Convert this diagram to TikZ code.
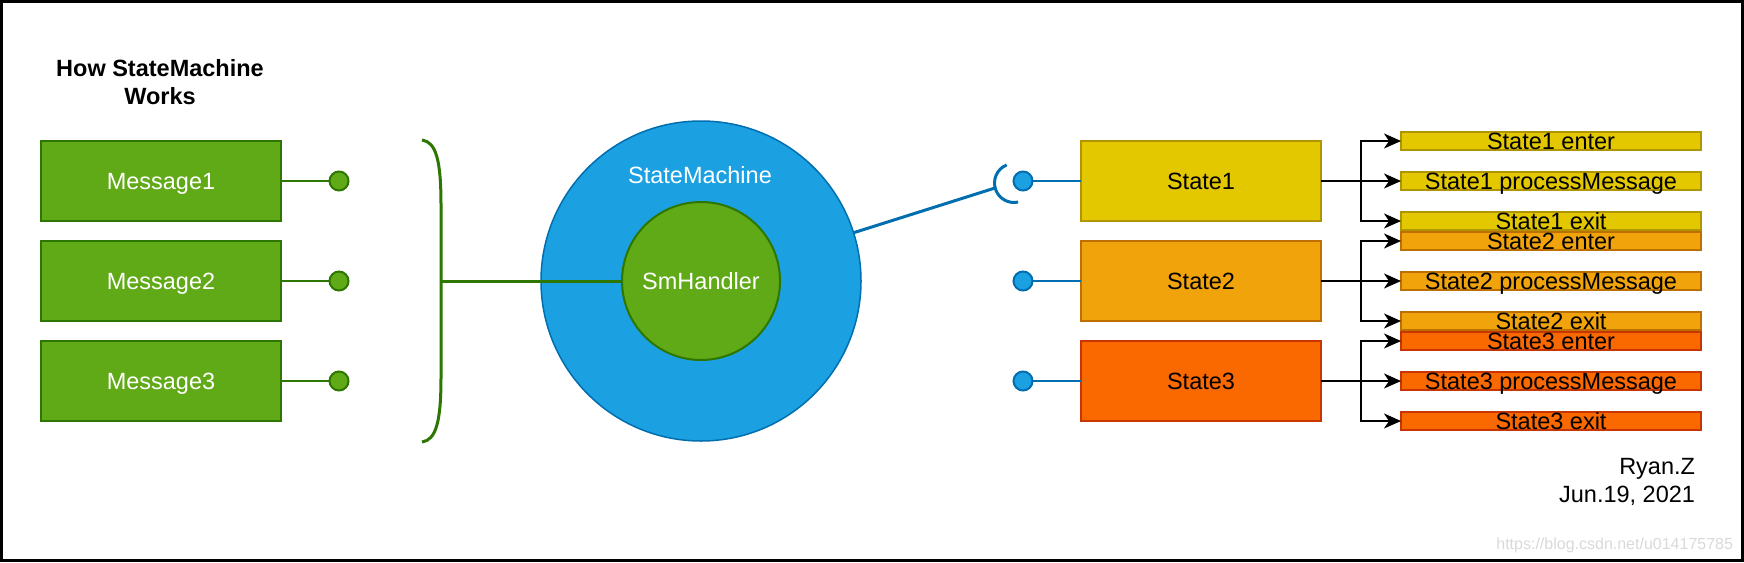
\documentclass[tikz,border=0pt]{standalone}
\usepackage{fontspec}
\setmainfont{Liberation Sans}
\usetikzlibrary{arrows.meta,calc}
\definecolor{gfill}{HTML}{60A917}
\definecolor{gline}{HTML}{2D7600}
\definecolor{bfill}{HTML}{1BA1E2}
\definecolor{bline}{HTML}{006EAF}
\definecolor{yfill}{HTML}{E3C800}
\definecolor{yline}{HTML}{B09500}
\definecolor{ofill}{HTML}{F0A30A}
\definecolor{oline}{HTML}{BD7000}
\definecolor{rfill}{HTML}{FA6800}
\definecolor{rline}{HTML}{C73500}
\newcommand{\myfs}{\fontsize{23.5pt}{28pt}\selectfont}
\tikzset{
  every node/.style={inner sep=0pt, outer sep=0pt},
  captxt/.style={text height=16.8pt, text depth=0pt, font=\myfs},
  msgbox/.style={captxt, draw=gline, fill=gfill, line width=2pt, minimum width=240pt, minimum height=80pt, text=white},
  dotg/.style={circle, draw=gline, fill=gfill, line width=2pt, minimum size=19pt},
  dotb/.style={circle, draw=bline, fill=bfill, line width=2pt, minimum size=19pt},
  stbox/.style={captxt, line width=2pt, minimum width=240pt, minimum height=80pt},
  methbox/.style={captxt, line width=2pt, minimum width=300pt, minimum height=18pt},
  st1/.style={draw=yline, fill=yfill},
  st2/.style={draw=oline, fill=ofill},
  st3/.style={draw=rline, fill=rfill},
  glink/.style={draw=gline, line width=2pt},
  blink/.style={draw=bline, line width=2pt},
  arr/.style={draw=black, line width=2pt, -{Stealth[length={17pt 0 0},width={15pt 0 0},inset={5pt 0}]}},
}
\begin{document}
\begin{tikzpicture}[x=1pt,y=-1pt]
\useasboundingbox (0,0) rectangle (1744,562);
\draw[line width=3pt] (1.5,1.5) rectangle (1742,560.5);

% title
\node[font=\bfseries\myfs, align=center] (title) at (160,82) {How StateMachine\\Works};

% messages
\node[msgbox] (m1) at (161,181) {Message1};
\node[msgbox] (m2) at (161,281) {Message2};
\node[msgbox] (m3) at (161,381) {Message3};
\node[dotg] (g1) at (339,181) {};
\node[dotg] (g2) at (339,281) {};
\node[dotg] (g3) at (339,381) {};
\draw[glink] (m1.east) -- (g1.west);
\draw[glink] (m2.east) -- (g2.west);
\draw[glink] (m3.east) -- (g3.west);

% bracket
\draw[draw=gline, line width=3pt] (422,140) .. controls (436,142) and (441,160) .. (441,205)
  -- (441,377) .. controls (441,422) and (436,440) .. (422,442);
\coordinate (brk) at (441,281);

% state machine
\node[circle, draw=bline, fill=bfill, line width=1.5pt, minimum size=320pt] (sm) at (701,281) {};
\node[captxt, text=white] (smlabel) at (700,175) {StateMachine};
\node[circle, draw=gline, fill=gfill, line width=2pt, minimum size=158pt, captxt, text=white] (smh) at (701,281) {SmHandler};
\draw[draw=gline, line width=3pt] (brk) -- (smh.west);

% socket
\coordinate (sockc) at (1014,183);
\coordinate (sockpt) at (995,188);
\draw[draw=bline, line width=3pt] (sm) -- (sockpt);
\draw[draw=bline, line width=3pt] (sockc) ++(112:19.5pt) arc[start angle=112, end angle=282, radius=19.5pt];

% states
\node[stbox, st1] (s1) at (1201,181) {State1};
\node[stbox, st2] (s2) at (1201,281) {State2};
\node[stbox, st3] (s3) at (1201,381) {State3};
\node[dotb] (b1) at (1023,181) {};
\node[dotb] (b2) at (1023,281) {};
\node[dotb] (b3) at (1023,381) {};
\draw[blink] (b1.east) -- (s1.west);
\draw[blink] (b2.east) -- (s2.west);
\draw[blink] (b3.east) -- (s3.west);

% method boxes
\node[methbox, st1] (a1) at (1551,141) {State1 enter};
\node[methbox, st1] (a2) at (1551,181) {State1 processMessage};
\node[methbox, st1] (a3) at (1551,221) {State1 exit};
\node[methbox, st2] (b1m) at (1551,241) {State2 enter};
\node[methbox, st2] (b2m) at (1551,281) {State2 processMessage};
\node[methbox, st2] (b3m) at (1551,321) {State2 exit};
\node[methbox, st3] (c1) at (1551,341) {State3 enter};
\node[methbox, st3] (c2) at (1551,381) {State3 processMessage};
\node[methbox, st3] (c3) at (1551,421) {State3 exit};

\draw[arr] (s1.east) -- ++(40,0) |- (a1.west);
\draw[arr] (s1.east) -- (a2.west);
\draw[arr] (s1.east) -- ++(40,0) |- (a3.west);
\draw[arr] (s2.east) -- ++(40,0) |- (b1m.west);
\draw[arr] (s2.east) -- (b2m.west);
\draw[arr] (s2.east) -- ++(40,0) |- (b3m.west);
\draw[arr] (s3.east) -- ++(40,0) |- (c1.west);
\draw[arr] (s3.east) -- (c2.west);
\draw[arr] (s3.east) -- ++(40,0) |- (c3.west);

% signature
\node[anchor=north east, align=right, font=\myfs] (sig) at (1695,458) {Ryan.Z\\Jun.19, 2021};
\node[anchor=base east, font=\fontsize{16pt}{19pt}\selectfont, text=black!15] (wm) at (1733,549) {https://blog.csdn.net/u014175785};
\end{tikzpicture}
\end{document}
